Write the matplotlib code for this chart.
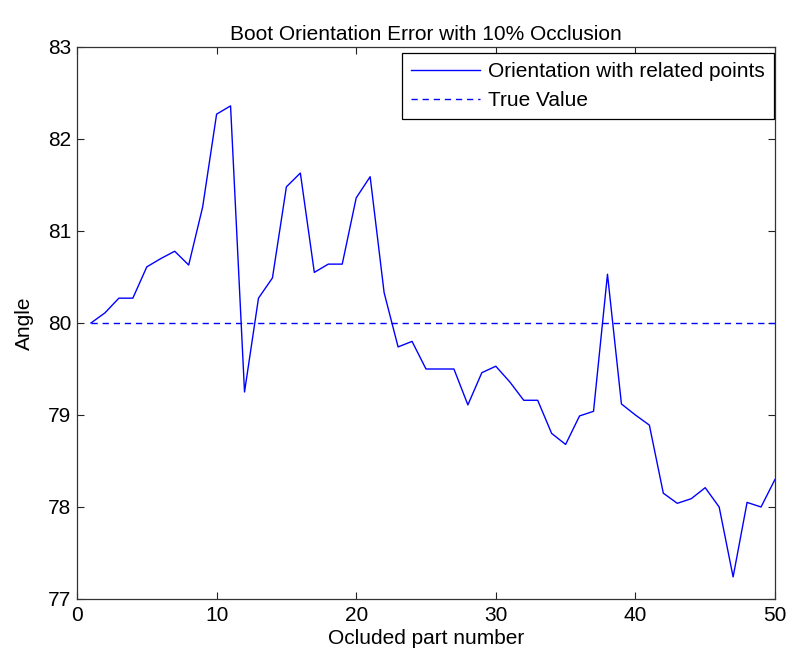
import numpy as np
import matplotlib.pyplot as plt

# orientation angle for each occluded part (1..50)
parte = np.arange(1, 51)
angulo = [80.00, 80.11, 80.27, 80.27, 80.61, 80.70, 80.78, 80.63, 81.26, 82.27,
          82.36, 79.25, 80.27, 80.49, 81.48, 81.63, 80.55, 80.64, 80.64, 81.36,
          81.59, 80.33, 79.74, 79.80, 79.50, 79.50, 79.50, 79.11, 79.46, 79.53,
          79.36, 79.16, 79.16, 78.80, 78.68, 78.99, 79.04, 80.53, 79.12, 79.00,
          78.89, 78.15, 78.04, 78.09, 78.21, 78.00, 77.24, 78.05, 78.00, 78.30]
valor_real = 80.0

plt.rcParams['font.family'] = ['Liberation Sans', 'DejaVu Sans']
plt.rcParams['font.size'] = 15

fig = plt.figure(figsize=(7.89, 6.58), dpi=100)
fig.patch.set_facecolor('white')
ax = fig.add_axes([77 / 789, 59 / 658, 698 / 789, 552 / 658])

azul = '#0000ff'
ax.plot(parte, angulo, color=azul, lw=1.0, label='Orientation with related points')
ax.plot([parte[0], parte[-1]], [valor_real, valor_real], color=azul, lw=1.0,
        dashes=(4.5, 3.5), label='True Value')

ax.set_xlim(0, 50)
ax.set_ylim(77, 83)
ax.set_xticks(np.arange(0, 51, 10))
ax.set_yticks(np.arange(77, 84, 1))
ax.tick_params(direction='in', length=5, width=0.8, top=True, right=True,
               colors='#222222', labelcolor='black')
ax.tick_params(axis='x', pad=5)
ax.tick_params(axis='y', pad=4)
for s in ax.spines.values():
    s.set_color('#333333')
    s.set_linewidth(0.9)

ax.set_title('Boot Orientation Error with 10% Occlusion', fontsize=15, pad=5)
ax.set_xlabel('Ocluded part number', labelpad=3)
ax.set_ylabel('Angle', labelpad=10)

leg = ax.legend(loc='upper right', bbox_to_anchor=(0.999, 0.989), borderaxespad=0,
                fancybox=False, edgecolor='black', framealpha=1,
                handlelength=3.3, handletextpad=0.4, labelspacing=0.45,
                borderpad=0.45)
leg.get_frame().set_linewidth(0.9)

fig.savefig('out.png', dpi=100)
